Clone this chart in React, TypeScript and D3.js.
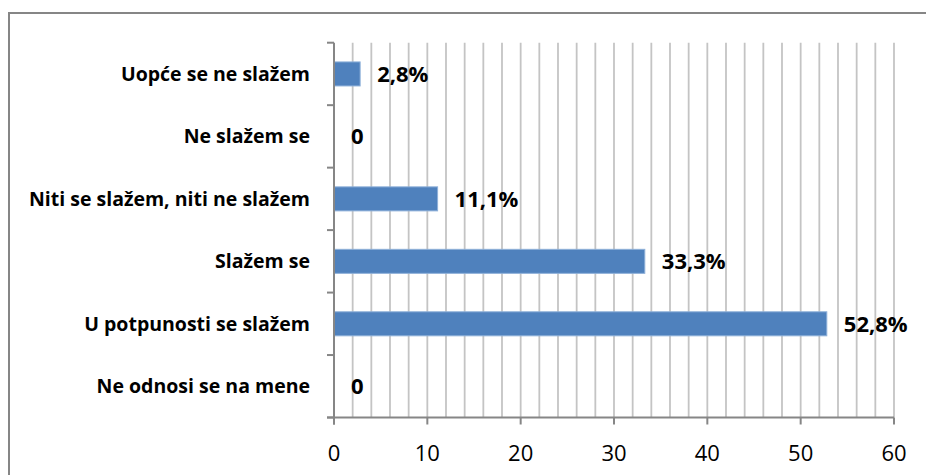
import * as d3 from 'd3'

const categories = [
  'Uopće se ne slažem',
  'Ne slažem se',
  'Niti se slažem, niti ne slažem',
  'Slažem se',
  'U potpunosti se slažem',
  'Ne odnosi se na mene',
]
const values = [2.8, 0, 11.1, 33.3, 52.8, 0]
const valueLabels = ['2,8%', '0', '11,1%', '33,3%', '52,8%', '0']
const xTicks = [0, 10, 20, 30, 40, 50, 60]

const W = 926
const H = 475
const PLOT = { left: 334, right: 894, top: 42.7, bottom: 417.5 }
const FONT = 'Open Sans, Liberation Sans, Arial, sans-serif'
const AXIS = '#868686'
const GRID = '#c4c4c4'
const BAR = '#4f81bd'

export default function App() {
  const x = d3.scaleLinear().domain([0, 60]).range([PLOT.left, PLOT.right])
  const y = d3.scaleBand<string>().domain(categories).range([PLOT.top, PLOT.bottom]).paddingInner(0).paddingOuter(0)
  const bw = y.bandwidth()
  const barH = bw / 2.6
  const gridVals = d3.range(2, 61, 2)

  return (
    <div style={{ position: 'fixed', left: 0, top: 0, width: W, height: H, background: '#fff' }}>
      <svg width={W} height={H} style={{ display: 'block' }}>
        {/* outer frame */}
        <rect x={9} y={13} width={W + 20} height={H + 20} fill="none" stroke={AXIS} strokeWidth={2} />

        {/* vertical grid */}
        {gridVals.map(v => (
          <line key={v} x1={x(v)} x2={x(v)} y1={PLOT.top} y2={PLOT.bottom} stroke={GRID} strokeWidth={1.8} />
        ))}

        {/* bars */}
        {categories.map((c, i) => {
          const yc = (y(c) ?? 0) + bw / 2
          return (
            <g key={c}>
              {values[i] > 0 && (
                <rect x={x(0)} y={yc - barH / 2} width={x(values[i]) - x(0)} height={barH}
                  fill={BAR} stroke="#8eb0d9" strokeWidth={1} />
              )}
              <text x={x(values[i]) + 17} y={yc} dy="0.36em" fontFamily={FONT} fontWeight="bold"
                fontSize={22} fill="#000">{valueLabels[i]}</text>
              <text x={PLOT.left - 24} y={yc} dy="0.36em" textAnchor="end" fontFamily={FONT}
                fontWeight="bold" fontSize={19.5} fill="#000">{c}</text>
            </g>
          )
        })}

        {/* y axis */}
        <line x1={PLOT.left} x2={PLOT.left} y1={PLOT.top} y2={PLOT.bottom + 7} stroke={AXIS} strokeWidth={2} />
        {d3.range(categories.length + 1).map(i => {
          const yy = PLOT.top + i * bw
          return <line key={i} x1={PLOT.left - 7} x2={PLOT.left} y1={yy} y2={yy} stroke={AXIS} strokeWidth={2} />
        })}

        {/* x axis */}
        <line x1={PLOT.left - 7} x2={PLOT.right} y1={PLOT.bottom} y2={PLOT.bottom} stroke={AXIS} strokeWidth={2} />
        {xTicks.map(t => (
          <g key={t}>
            <line x1={x(t)} x2={x(t)} y1={PLOT.bottom} y2={PLOT.bottom + 7} stroke={AXIS} strokeWidth={2} />
            <text x={x(t)} y={453} dy="0.36em" textAnchor="middle" fontFamily={FONT} fontSize={22} fill="#000">{t}</text>
          </g>
        ))}
      </svg>
    </div>
  )
}
